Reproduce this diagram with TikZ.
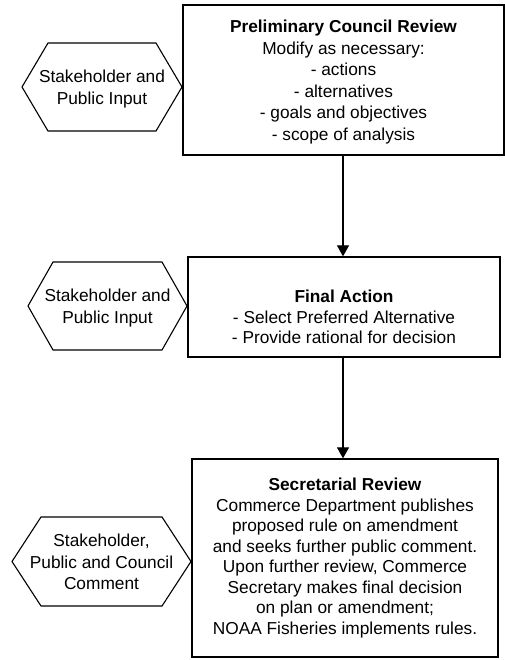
\documentclass[tikz,border=0pt]{standalone}
\usepackage{fontspec}
\setmainfont{Liberation Sans}
\usetikzlibrary{arrows.meta,calc}
\tikzset{
  boxshape/.style={draw=black, line width=1.3pt, rectangle, inner sep=0pt},
  boxtext/.style={align=center, inner sep=0pt, font=\fontsize{17.3}{20.5}\selectfont},
  hextext/.style={align=center, inner sep=0pt, font=\fontsize{17.3}{21.5}\selectfont},
  hexline/.style={draw=black, line width=1.1pt, line join=miter},
  flow/.style={draw=black, line width=1.2pt, -{Triangle[length=11pt,width=12pt]}}
}
\newcommand{\hexagonshape}[6]{%
  % #1 name, #2 cx, #3 cy, #4 half width, #5 half height, #6 bevel
  \coordinate (#1-w) at (#2-#4,#3);
  \coordinate (#1-e) at (#2+#4,#3);
  \draw[hexline] (#1-w) -- (#2-#4+#6,#3-#5) -- (#2+#4-#6,#3-#5) -- (#1-e)
     -- (#2+#4-#6,#3+#5) -- (#2-#4+#6,#3+#5) -- cycle;
}
\begin{document}
\begin{tikzpicture}[x=1pt,y=-1pt]
\useasboundingbox[fill=white] (0,0) rectangle (505,660);

% main boxes
\node[boxshape, minimum width=321pt, minimum height=150pt] (b1) at (343.5,80) {};
\node[boxtext, font=\fontsize{17.3}{21.5}\selectfont] (b1t) at (343.5,82) {\textbf{Preliminary Council Review}\\Modify as necessary:\\- actions\\- alternatives\\- goals and objectives\\- scope of analysis};

\node[boxshape, minimum width=312pt, minimum height=100pt] (b2) at (344,307) {};
\node[boxtext] (b2t) at (344,317) {\textbf{Final Action}\\- Select Preferred Alternative\\- Provide rational for decision};

\node[boxshape, minimum width=306pt, minimum height=198pt] (b3) at (345,558) {};
\node[boxtext] (b3t) at (345,558) {\textbf{Secretarial Review}\\Commerce Department publishes\\proposed rule on amendment\\and seeks further public comment.\\Upon further review, Commerce\\Secretary makes final decision\\on plan or amendment;\\NOAA Fisheries implements rules.};

% hexagons
\hexagonshape{h1}{102}{87}{80}{44}{26}
\node[hextext] (h1t) at (102,89) {Stakeholder and\\Public Input};

\hexagonshape{h2}{107.5}{306}{79.5}{44}{25}
\node[hextext] (h2t) at (107.5,308) {Stakeholder and\\Public Input};

\hexagonshape{h3}{101.5}{561.5}{89.5}{44.5}{29}
\node[hextext] (h3t) at (101.5,562) {Stakeholder,\\Public and Council\\Comment};

% connectors
\draw[flow] (b1.south -| 343,0) -- (b2.north -| 343,0);
\draw[flow] (b2.south -| 343,0) -- (b3.north -| 343,0);
\end{tikzpicture}
\end{document}
